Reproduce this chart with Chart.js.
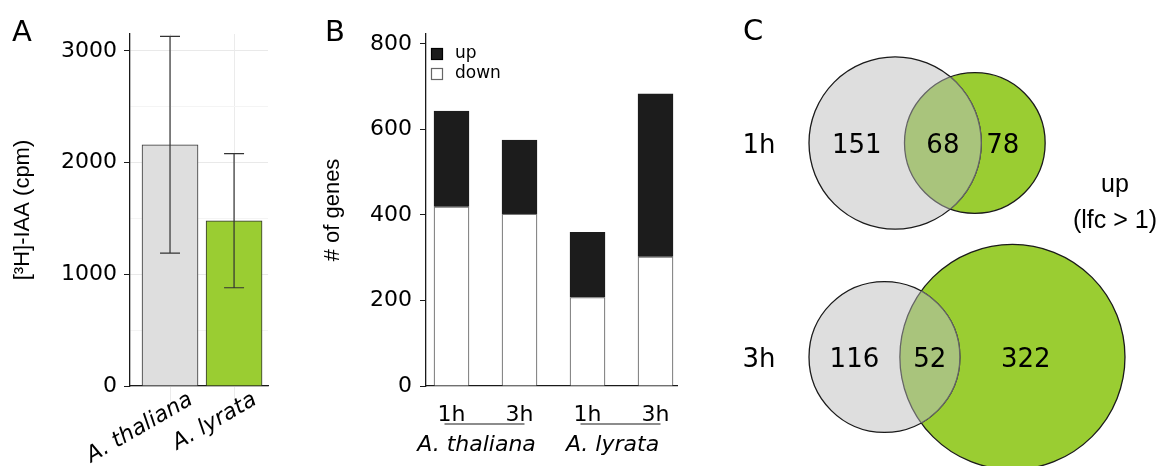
<!DOCTYPE html>
<html>
<head>
<meta charset="utf-8">
<script src="https://cdn.jsdelivr.net/npm/chart.js@4.4.0/dist/chart.umd.min.js"></script>
<style>
  body { margin: 0; background: #fff; }
  #wrap { position: relative; width: 1164px; height: 466px; overflow: hidden; }
  canvas { position: absolute; top: 0; }
</style>
</head>
<body>
<div id="wrap">
  <canvas id="chartA" width="290" height="466" style="left:0"></canvas>
  <canvas id="chartB" width="380" height="466" style="left:310px"></canvas>
  <canvas id="chartC" width="464" height="466" style="left:700px"></canvas>
</div>
<script>
// panel A: auxin uptake
const species = ['A. thaliana', 'A. lyrata'];
const iaaMean = [2160, 1480];
const iaaSd = [970, 600];
const iaaTicks = [0, 500, 1000, 1500, 2000, 2500, 3000];

// panel B: differentially expressed genes
const timepoints = ['1h', '3h', '1h', '3h'];
const timeGroups = ['A. thaliana', 'A. thaliana', 'A. lyrata', 'A. lyrata'];
const genesDown = [419, 402, 207, 302];
const genesUp = [224, 173, 152, 381];
const geneTicks = [0, 200, 400, 600, 800];

// panel C: overlap of up-regulated genes
const vennRows = ['1h', '3h'];
const onlyThaliana = [151, 116];
const shared = [68, 52];
const onlyLyrata = [78, 322];

const ink = '#1a1a1a';
const dejavu = 'DejaVu Sans';
const arial = 'Liberation Sans';

const panelLetter = {
  id: 'panelLetter',
  afterDraw(chart, args, opts) {
    const ctx = chart.ctx;
    ctx.save();
    ctx.font = '29px "' + dejavu + '"';
    ctx.fillStyle = '#000';
    ctx.fillText(opts.text, opts.x, opts.y);
    ctx.restore();
  }
};

const base = {
  responsive: false,
  animation: false,
  events: [],
};

// ---------- A ----------
const errorBars = {
  id: 'errorBars',
  afterDatasetsDraw(chart) {
    const { ctx } = chart;
    const y = chart.scales.y;
    ctx.save();
    ctx.strokeStyle = '#333';
    ctx.lineWidth = 1.2;
    chart.getDatasetMeta(0).data.forEach((bar, i) => {
      const top = y.getPixelForValue(iaaMean[i] + iaaSd[i]);
      const bot = y.getPixelForValue(iaaMean[i] - iaaSd[i]);
      ctx.beginPath();
      ctx.moveTo(bar.x, top); ctx.lineTo(bar.x, bot);
      ctx.moveTo(bar.x - 10, top); ctx.lineTo(bar.x + 10, top);
      ctx.moveTo(bar.x - 10, bot); ctx.lineTo(bar.x + 10, bot);
      ctx.stroke();
    });
    ctx.restore();
  }
};

new Chart(document.getElementById('chartA'), {
  type: 'bar',
  data: {
    datasets: [{
      data: species.map((s, i) => ({ x: i + 1, y: iaaMean[i] })),
      backgroundColor: ['#dedede', '#9acd32'],
      borderColor: '#333',
      borderWidth: 1,
      barThickness: 56,
    }]
  },
  options: Object.assign({}, base, {
    layout: { padding: { top: 34, right: 22, left: 0, bottom: 0 } },
    plugins: {
      legend: { display: false },
      tooltip: { enabled: false },
      panelLetter: { text: 'A', x: 12, y: 41 },
    },
    scales: {
      x: {
        type: 'linear', min: 0.375, max: 2.53, offset: false,
        afterBuildTicks: s => { s.ticks = species.map((n, i) => ({ value: i + 1 })); },
        afterFit: s => { s.height = 80; },
        grid: { offset: false, color: '#ebebeb', tickColor: '#ebebeb', tickLength: 15 },
        border: { color: ink, width: 1.3 },
        ticks: {
          callback: v => species[v - 1],
          font: { family: dejavu, size: 22, style: 'italic' },
          color: '#000',
          minRotation: 30, maxRotation: 30,
          labelOffset: 21, padding: -14, autoSkip: false,
        },
      },
      y: {
        min: 0, max: 3152,
        afterBuildTicks: s => { s.ticks = iaaTicks.map(v => ({ value: v })); },
        afterFit: s => { s.width = 130; },
        grid: {
          color: c => c.tick && c.tick.value % 1000 ? '#f4f4f4' : '#e9e9e9',
          tickColor: c => c.tick && c.tick.value % 1000 ? 'rgba(0,0,0,0)' : ink,
          tickLength: 6,
        },
        border: { color: ink, width: 1.3 },
        ticks: {
          callback: v => (v % 1000 ? '' : String(v)),
          font: { family: dejavu, size: 22 },
          color: '#000',
          padding: 7,
        },
        title: {
          display: true, text: '[³H]-IAA (cpm)', color: '#000',
          font: { family: arial, size: 22 },
          padding: { top: 10, bottom: 0 },
        },
      },
    },
  }),
  plugins: [errorBars, panelLetter],
});

// ---------- B ----------
const legendBox = {
  id: 'legendBox',
  afterDraw(chart) {
    const ctx = chart.ctx;
    const left = chart.chartArea.left + 5;
    const entries = [chart.data.datasets[1], chart.data.datasets[0]];
    ctx.save();
    ctx.font = '17px "' + dejavu + '"';
    ctx.textBaseline = 'middle';
    entries.forEach((ds, i) => {
      const top = 48 + i * 20;
      ctx.fillStyle = ds.backgroundColor;
      ctx.fillRect(left, top, 12, 12);
      ctx.strokeStyle = ds.legendBorder;
      ctx.lineWidth = 1.2;
      ctx.strokeRect(left + 0.5, top + 0.5, 11, 11);
      ctx.fillStyle = '#000';
      ctx.fillText(ds.label, left + 24, top + 6);
    });
    ctx.restore();
  }
};

const groupAxis = {
  id: 'groupAxis',
  afterDraw(chart) {
    const ctx = chart.ctx;
    const x = chart.scales.x;
    const names = timeGroups.filter((g, i) => timeGroups.indexOf(g) === i);
    ctx.save();
    names.forEach(name => {
      const first = timeGroups.indexOf(name) + 1;
      const last = timeGroups.lastIndexOf(name) + 1;
      const x0 = x.getPixelForValue(first) - 7;
      const x1 = x.getPixelForValue(last) + 5;
      ctx.strokeStyle = '#666';
      ctx.lineWidth = 1.5;
      ctx.beginPath();
      ctx.moveTo(x0, 424); ctx.lineTo(x1, 424);
      ctx.stroke();
      ctx.fillStyle = '#000';
      ctx.font = 'italic 22px "' + dejavu + '"';
      ctx.textAlign = 'center';
      ctx.fillText(name, (x0 + x1) / 2 - 8, 451);
    });
    ctx.restore();
  }
};

new Chart(document.getElementById('chartB'), {
  type: 'bar',
  data: {
    datasets: [
      {
        label: 'down',
        data: timepoints.map((t, i) => ({ x: i + 1, y: genesDown[i] })),
        backgroundColor: '#ffffff', borderColor: '#777', legendBorder: '#666',
        borderWidth: 1.2, barThickness: 35,
      },
      {
        label: 'up',
        data: timepoints.map((t, i) => ({ x: i + 1, y: genesUp[i] })),
        backgroundColor: '#1c1c1c', borderColor: '#1c1c1c', legendBorder: '#000',
        borderWidth: 1, barThickness: 35,
      },
    ]
  },
  options: Object.assign({}, base, {
    layout: { padding: { top: 34, right: 13, left: 0, bottom: 0 } },
    plugins: {
      legend: { display: false },
      tooltip: { enabled: false },
      panelLetter: { text: 'B', x: 15, y: 41 },
    },
    scales: {
      x: {
        type: 'linear', stacked: true, min: 0.625, max: 4.316, offset: false,
        afterBuildTicks: s => { s.ticks = timepoints.map((t, i) => ({ value: i + 1 })); },
        afterFit: s => { s.height = 80; },
        grid: { display: false, offset: false },
        border: { color: ink, width: 1.3 },
        ticks: {
          callback: v => timepoints[v - 1],
          font: { family: dejavu, size: 22 },
          color: '#000', padding: 8, maxRotation: 0, autoSkip: false,
        },
      },
      y: {
        stacked: true, min: 0, max: 823,
        afterBuildTicks: s => { s.ticks = geneTicks.map(v => ({ value: v })); },
        afterFit: s => { s.width = 116; },
        grid: { drawOnChartArea: false, tickColor: ink, tickLength: 6 },
        border: { color: ink, width: 1.3 },
        ticks: { font: { family: dejavu, size: 22 }, color: '#000', padding: 8 },
        title: {
          display: true, text: '# of genes', color: '#000',
          font: { family: arial, size: 22 },
          padding: { top: 10, bottom: 0 },
        },
      },
    },
  }),
  plugins: [legendBox, groupAxis, panelLetter],
});

// ---------- C ----------
const vennK = 5.82;          // px per sqrt(gene count)
const vennLeft = 109;        // left edge of the A. thaliana circle
const vennRowY = [143, 357];

function lensArea(r1, r2, d) {
  if (d >= r1 + r2) return 0;
  if (d <= Math.abs(r1 - r2)) return Math.PI * Math.min(r1, r2) ** 2;
  const a1 = Math.acos((d * d + r1 * r1 - r2 * r2) / (2 * d * r1));
  const a2 = Math.acos((d * d + r2 * r2 - r1 * r1) / (2 * d * r2));
  return r1 * r1 * a1 + r2 * r2 * a2 -
    0.5 * Math.sqrt((-d + r1 + r2) * (d + r1 - r2) * (d - r1 + r2) * (d + r1 + r2));
}
function solveDistance(r1, r2, target) {
  let lo = Math.abs(r1 - r2), hi = r1 + r2;
  for (let i = 0; i < 60; i++) {
    const mid = (lo + hi) / 2;
    if (lensArea(r1, r2, mid) > target) lo = mid; else hi = mid;
  }
  return (lo + hi) / 2;
}
const venn = vennRows.map((row, i) => {
  const r1 = vennK * Math.sqrt(onlyThaliana[i] + shared[i]);
  const r2 = vennK * Math.sqrt(onlyLyrata[i] + shared[i]);
  const d = solveDistance(r1, r2, Math.PI * vennK * vennK * shared[i]);
  return { r1, r2, x1: vennLeft + r1, x2: vennLeft + r1 + d, y: vennRowY[i] };
});

const vennOverlap = {
  id: 'vennOverlap',
  afterDatasetsDraw(chart) {
    const ctx = chart.ctx;
    const gray = chart.getDatasetMeta(0).data;
    const green = chart.getDatasetMeta(1).data;
    const circle = el => { ctx.beginPath(); ctx.arc(el.x, el.y, el.options.radius, 0, Math.PI * 2); };
    gray.forEach((g, i) => {
      const e = green[i];
      ctx.save();
      circle(g); ctx.clip();
      circle(e); ctx.fillStyle = '#a9c47c'; ctx.fill();
      ctx.strokeStyle = '#666'; ctx.lineWidth = 1.3; ctx.stroke();
      ctx.restore();
      ctx.save();
      circle(e); ctx.clip();
      circle(g); ctx.strokeStyle = '#666'; ctx.lineWidth = 1.3; ctx.stroke();
      ctx.restore();
    });
  },
  afterDraw(chart) {
    const ctx = chart.ctx;
    const sx = chart.scales.x, sy = chart.scales.y;
    ctx.save();
    ctx.fillStyle = '#000';
    ctx.textAlign = 'center';
    ctx.font = '26px "' + dejavu + '"';
    venn.forEach((v, i) => {
      const y = sy.getPixelForValue(v.y) + 9.5;
      const grayL = v.x1 - v.r1, grayR = v.x1 + v.r1;
      const greenL = v.x2 - v.r2;
      const lens = lensArea(v.r1, v.r2, v.x2 - v.x1);
      const lensX = (greenL + grayR) / 2;
      const greenA = Math.PI * v.r2 * v.r2;
      const rightX = (greenA * v.x2 - lens * lensX) / (greenA - lens);
      ctx.fillText(String(onlyThaliana[i]), sx.getPixelForValue((grayL + greenL) / 2), y);
      ctx.fillText(String(shared[i]), sx.getPixelForValue(lensX), y);
      ctx.fillText(String(onlyLyrata[i]), sx.getPixelForValue(rightX), y);
      ctx.fillText(vennRows[i], 59, y);
    });
    ctx.font = '25px "' + arial + '"';
    ctx.fillText('up', 415, 192);
    ctx.fillText('(lfc > 1)', 415, 228);
    ctx.restore();
  }
};

new Chart(document.getElementById('chartC'), {
  type: 'bubble',
  data: {
    datasets: [
      {
        data: venn.map(v => ({ x: v.x1, y: v.y, r: v.r1 })),
        backgroundColor: '#dedede', borderColor: ink, borderWidth: 1.3, clip: false,
      },
      {
        data: venn.map(v => ({ x: v.x2, y: v.y, r: v.r2 })),
        backgroundColor: '#9acd32', borderColor: ink, borderWidth: 1.3, clip: false,
      },
    ]
  },
  options: Object.assign({}, base, {
    layout: { padding: 0, autoPadding: false },
    plugins: {
      legend: { display: false },
      tooltip: { enabled: false },
      panelLetter: { text: 'C', x: 43, y: 40 },
    },
    scales: {
      x: { type: 'linear', min: 0, max: 464, display: false },
      y: { type: 'linear', min: 0, max: 466, reverse: true, display: false },
    },
  }),
  plugins: [vennOverlap, panelLetter],
});
</script>
</body>
</html>
